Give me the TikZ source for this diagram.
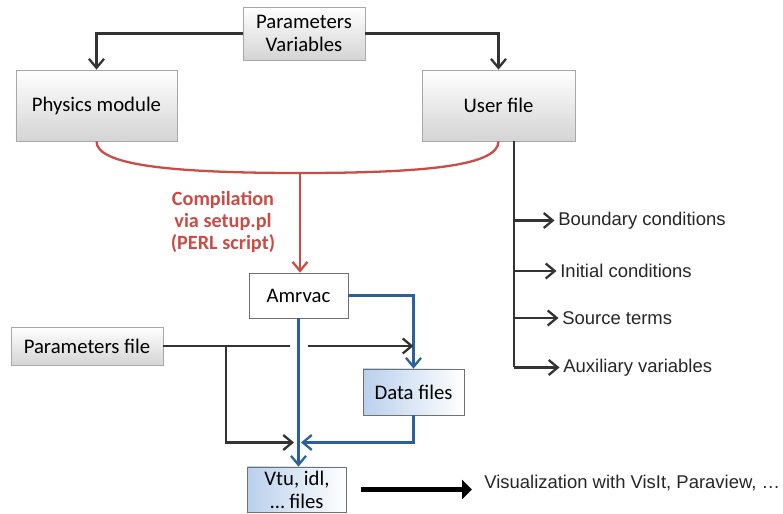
\documentclass[tikz,border=0pt]{standalone}
\usepackage{fontspec}
\setmainfont{Carlito}
\newfontfamily\helv{Liberation Sans}
\usetikzlibrary{arrows.meta,positioning,shadows}
\definecolor{pdark}{HTML}{333333}
\definecolor{pred}{HTML}{CC4B45}
\definecolor{pblue}{HTML}{2C5F9E}
\definecolor{pedge}{HTML}{A8A8A8}
\definecolor{pgrey}{HTML}{D4D4D4}
\definecolor{pice}{HTML}{B9D0EC}

\begin{document}
\begin{tikzpicture}[
  font=\fontsize{11.8}{13}\selectfont,
  greybox/.style={draw=pedge,top color=white,bottom color=pgrey,align=center,
    inner sep=1pt,drop shadow={opacity=0.18,shadow xshift=0.6pt,shadow yshift=-0.8pt}},
  icebox/.style={draw=pdark!70,left color=pice,right color=white,align=center,
    inner sep=1pt,minimum width=1.98cm,minimum height=0.9cm},
  plain/.style={draw=pdark!70,fill=white,align=center,
    minimum width=1.98cm,minimum height=0.9cm},
  lbl/.style={font=\helv\fontsize{10.5}{12}\selectfont,text=black!85,anchor=west,inner sep=2pt},
  blk/.style={-{Straight Barb[length=1.8mm,width=3mm]},draw=pdark,line width=1.3pt},
  dk/.style={draw=pdark,line width=1.3pt},
  blu/.style={-{Straight Barb[length=1.8mm,width=3mm]},draw=pblue,line width=1.3pt},
  rd/.style={draw=pred,line width=1.3pt},
  fat/.style={-{Triangle[length=2mm,width=3.8mm]},draw=black,line width=3.3pt}]

\useasboundingbox (0,0) rectangle (15.66,-10.28);

% ---------------- inputs ----------------
\node[greybox,minimum width=2.44cm,minimum height=1.06cm] (pv) at (6.08,-0.67)
  {Parameters\\Variables};
\node[greybox,minimum width=3.22cm,minimum height=1.42cm] (phys) at (1.93,-2.11)
  {Physics module};
\node[greybox,minimum width=3.06cm,minimum height=1.42cm] (user) at (9.97,-2.11)
  {User file};
\draw[blk] (pv.west) -| (phys.north);
\draw[blk] (pv.east) -| (user.north);

% ---------------- compilation ----------------
\coordinate (merge) at (6.0,-3.46);
\draw[rd] (phys.south) .. controls (1.93,-3.3) and (3.4,-3.46) .. (merge)
  .. controls (8.6,-3.46) and (9.97,-3.3) .. (user.south);
\node[align=center,text=pred,font=\bfseries\fontsize{11.5}{12.6}\selectfont]
  (comp) at (4.46,-4.44) {Compilation\\via setup.pl\\(PERL script)};
\node[plain] (amr) at (5.97,-5.91) {Amrvac};
\draw[rd,-{Straight Barb[length=1.8mm,width=3mm]}] (merge) -- (merge |- amr.north);

% ---------------- user file contents ----------------
\node[lbl] (bc) at (11.09,-4.41) {Boundary conditions};
\node[lbl] (ic) at (11.13,-5.42) {Initial conditions};
\node[lbl] (st) at (11.17,-6.36) {Source terms};
\node[lbl] (av) at (11.19,-7.35) {Auxiliary variables};
\coordinate (uf) at (10.28,-2.82);
\draw[dk] (uf) -- (uf |- av.west);
\draw[blk] (uf |- bc.west) -- (bc.west);
\draw[blk] (uf |- ic.west) -- (ic.west);
\draw[blk] (uf |- st.west) -- (st.west);
\draw[blk] (uf |- av.west) -- (av.west);

% ---------------- run and output ----------------
\node[greybox,minimum width=3.04cm,minimum height=0.76cm] (pfile) at (1.74,-6.92)
  {Parameters file};
\node[icebox,minimum width=2.02cm,minimum height=0.92cm] (data) at (8.27,-7.84)
  {Data files};
\node[icebox] (vtu) at (5.94,-9.79) {Vtu, idl,\\\dots\ files};
\node[lbl] (viz) at (9.61,-9.66) {Visualization with VisIt, Paraview, \dots};

\coordinate (gapL) at (5.80,-6.92);
\coordinate (gapR) at (6.16,-6.92);
\coordinate (br)   at (4.52,-6.92);
\coordinate (mL)   at (5.88,-8.85);
\coordinate (mR)   at (6.02,-8.85);

\draw[blu] (amr.east) -| (data.north);
\draw[blu] (amr.south) -- (amr.south |- vtu.north);
\draw[dk]  (pfile.east) -- (gapL);
\draw[blk] (gapR) -- (gapR -| data.north);
\draw[blk] (br) |- (mL);
\draw[blu] (data.south) |- (mR);
\draw[fat] ([xshift=0.28cm]vtu.east) -- ([xshift=-0.17cm]viz.west |- vtu.east);
\end{tikzpicture}
\end{document}
